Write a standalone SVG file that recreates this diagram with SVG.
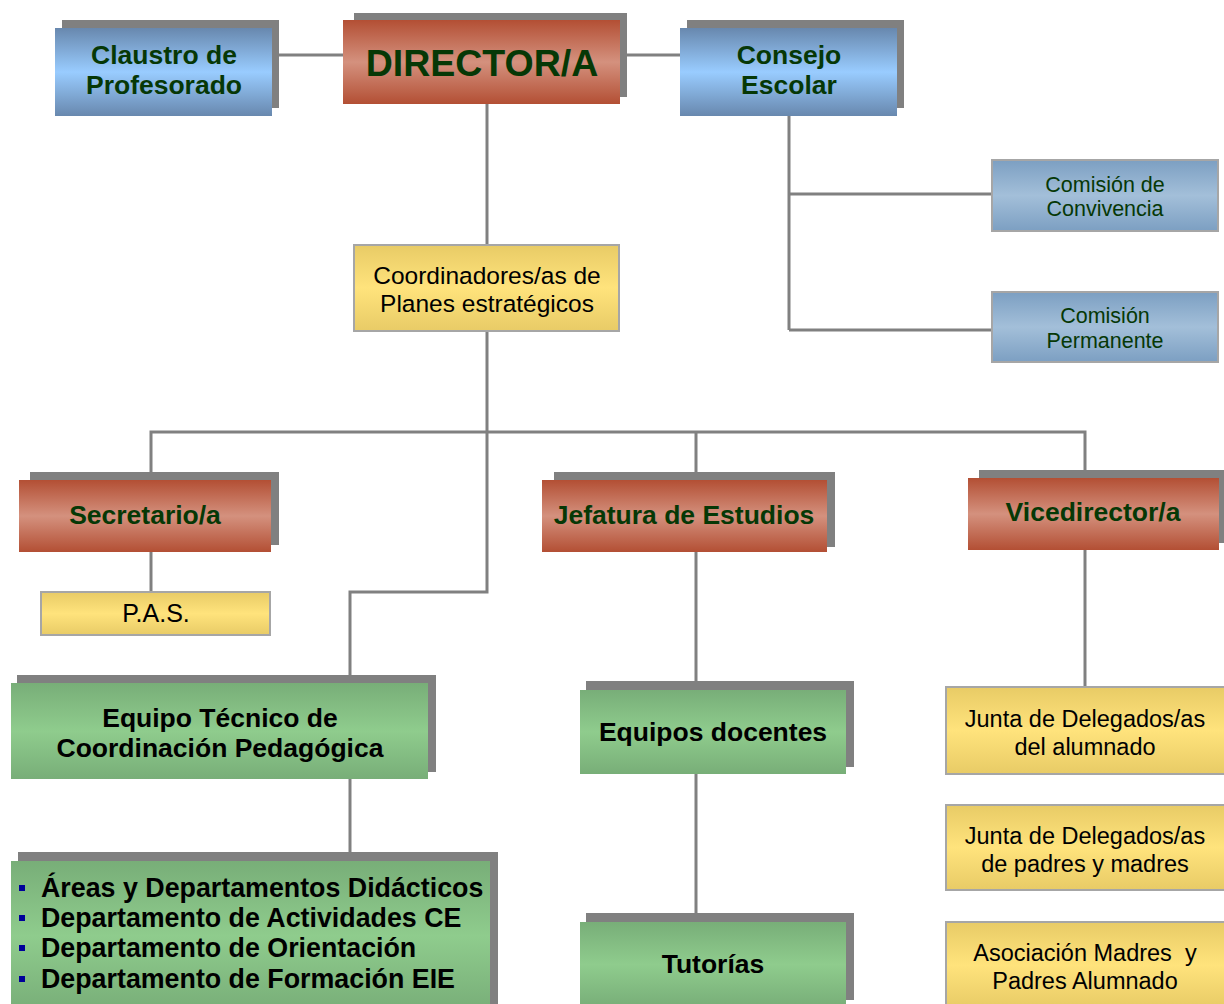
<svg xmlns="http://www.w3.org/2000/svg" width="1224" height="1004" viewBox="0 0 1224 1004">
<defs>
<linearGradient id="gBlue" x1="0" y1="0" x2="0" y2="1"><stop offset="0" stop-color="#6888AE"/><stop offset="0.5" stop-color="#99CCFF"/><stop offset="1" stop-color="#6888AE"/></linearGradient>
<linearGradient id="gRed" x1="0" y1="0" x2="0" y2="1"><stop offset="0" stop-color="#B34F34"/><stop offset="0.5" stop-color="#D4917E"/><stop offset="1" stop-color="#B34F34"/></linearGradient>
<linearGradient id="gGreen" x1="0" y1="0" x2="0" y2="1"><stop offset="0" stop-color="#78AE78"/><stop offset="0.5" stop-color="#8FCC8D"/><stop offset="1" stop-color="#78AE78"/></linearGradient>
<linearGradient id="gYellow" x1="0" y1="0" x2="0" y2="1"><stop offset="0" stop-color="#E8CB66"/><stop offset="0.5" stop-color="#FFE37C"/><stop offset="1" stop-color="#E8CB66"/></linearGradient>
<linearGradient id="gCom" x1="0" y1="0" x2="0" y2="1"><stop offset="0" stop-color="#7C9FC2"/><stop offset="0.5" stop-color="#A3BFD9"/><stop offset="1" stop-color="#7C9FC2"/></linearGradient>
</defs>
<style>
.sh{fill:#808080}
.blue{fill:url(#gBlue)}
.red{fill:url(#gRed)}
.green{fill:url(#gGreen)}
.yel{fill:url(#gYellow);stroke:#A6A6A6;stroke-width:2}
.com{fill:url(#gCom);stroke:#A6A6A6;stroke-width:2}
.ln{fill:none;stroke:#808080;stroke-width:3}
text{font-family:"Liberation Sans",Arial,sans-serif;text-anchor:middle}
.hd{font-weight:bold;font-size:26.5px;fill:#063806}
.bk{font-weight:bold;font-size:26.5px;fill:#000}
.nm{font-size:23.5px;fill:#000}
.cm{font-size:21.5px;fill:#063806}
.li{font-weight:bold;font-size:26.8px;fill:#000;text-anchor:start}
.bul{fill:#000099}
</style>
<g id="connectors">
<path class="ln" d="M272 55H343M620 55H680"/>
<path class="ln" d="M487 104V245"/>
<path class="ln" d="M789 116V330M789 194H992M789 330H992"/>
<path class="ln" d="M487 331V592H350V676"/>
<path class="ln" d="M151 472V432H1085V470M696 432V472"/>
<path class="ln" d="M151 552V592"/>
<path class="ln" d="M696 552V683M696 774V913"/>
<path class="ln" d="M1085 550V687"/>
<path class="ln" d="M350 779V852"/>
</g>
<g id="claustro">
<rect class="sh" x="62" y="20" width="217" height="88"/>
<rect class="blue" x="55" y="28" width="217" height="88"/>
<text class="hd" x="164" y="64">Claustro de</text>
<text class="hd" x="164" y="94">Profesorado</text>
</g>
<g id="director">
<rect class="sh" x="354" y="13" width="273" height="84"/>
<rect class="red" x="343" y="20" width="277" height="84"/>
<text class="hd" x="482" y="76" style="font-size:37.5px">DIRECTOR/A</text>
</g>
<g id="consejo">
<rect class="sh" x="687" y="20" width="217" height="88"/>
<rect class="blue" x="680" y="28" width="217" height="88"/>
<text class="hd" x="789" y="64">Consejo</text>
<text class="hd" x="789" y="94">Escolar</text>
</g>
<g id="comision-convivencia">
<rect class="com" x="992" y="160" width="226" height="71"/>
<text class="cm" x="1105" y="192">Comisión de</text>
<text class="cm" x="1105" y="216">Convivencia</text>
</g>
<g id="comision-permanente">
<rect class="com" x="992" y="292" width="226" height="70"/>
<text class="cm" x="1105" y="323">Comisión</text>
<text class="cm" x="1105" y="348">Permanente</text>
</g>
<g id="coordinadores">
<rect class="yel" x="354" y="245" width="265" height="86"/>
<text class="nm" x="487" y="284" style="font-size:24.5px">Coordinadores/as de</text>
<text class="nm" x="487" y="312" style="font-size:24.5px">Planes estratégicos</text>
</g>
<g id="secretario">
<rect class="sh" x="30" y="472" width="249" height="73"/>
<rect class="red" x="19" y="480" width="252" height="72"/>
<text class="hd" x="145" y="524">Secretario/a</text>
</g>
<g id="jefatura">
<rect class="sh" x="554" y="472" width="281" height="75"/>
<rect class="red" x="542" y="480" width="285" height="72"/>
<text class="hd" x="684" y="524">Jefatura de Estudios</text>
</g>
<g id="vicedirector">
<rect class="sh" x="979" y="470" width="245" height="73"/>
<rect class="red" x="968" y="478" width="251" height="72"/>
<text class="hd" x="1093" y="521">Vicedirector/a</text>
</g>
<g id="pas">
<rect class="yel" x="41" y="592" width="229" height="43"/>
<text class="nm" x="156" y="622" style="font-size:25px">P.A.S.</text>
</g>
<g id="etcp">
<rect class="sh" x="17" y="675" width="419" height="97"/>
<rect class="green" x="11" y="683" width="417" height="96"/>
<text class="bk" x="220" y="727">Equipo Técnico de</text>
<text class="bk" x="220" y="757">Coordinación Pedagógica</text>
</g>
<g id="departamentos">
<rect class="sh" x="18" y="852" width="480" height="152"/>
<rect class="green" x="11" y="861" width="479" height="150"/>
<rect class="bul" x="19" y="885" width="6" height="6"/>
<rect class="bul" x="19" y="915" width="6" height="6"/>
<rect class="bul" x="19" y="945" width="6" height="6"/>
<rect class="bul" x="19" y="976" width="6" height="6"/>
<text class="li" x="41" y="897">Áreas y Departamentos Didácticos</text>
<text class="li" x="41" y="927">Departamento de Actividades CE</text>
<text class="li" x="41" y="957">Departamento de Orientación</text>
<text class="li" x="41" y="988">Departamento de Formación EIE</text>
</g>
<g id="equipos-docentes">
<rect class="sh" x="586" y="681" width="268" height="86"/>
<rect class="green" x="580" y="690" width="266" height="84"/>
<text class="bk" x="713" y="741">Equipos docentes</text>
</g>
<g id="tutorias">
<rect class="sh" x="586" y="913" width="268" height="87"/>
<rect class="green" x="580" y="922" width="266" height="85"/>
<text class="bk" x="713" y="973">Tutorías</text>
</g>
<g id="junta-alumnado">
<rect class="yel" x="946" y="687" width="280" height="87"/>
<text class="nm" x="1085" y="727">Junta de Delegados/as</text>
<text class="nm" x="1085" y="755">del alumnado</text>
</g>
<g id="junta-padres">
<rect class="yel" x="946" y="805" width="280" height="85"/>
<text class="nm" x="1085" y="844">Junta de Delegados/as</text>
<text class="nm" x="1085" y="872">de padres y madres</text>
</g>
<g id="asociacion">
<rect class="yel" x="946" y="922" width="280" height="86"/>
<text class="nm" x="1085" y="961" xml:space="preserve" style="white-space:pre">Asociación Madres  y</text>
<text class="nm" x="1085" y="989">Padres Alumnado</text>
</g>
</svg>
